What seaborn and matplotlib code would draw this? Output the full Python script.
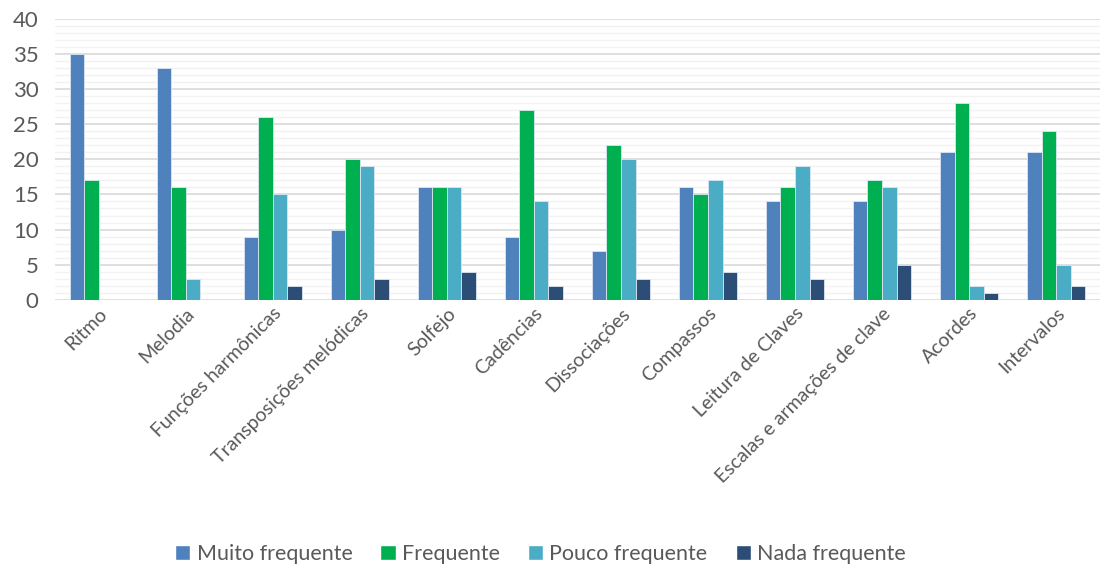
import pandas as pd
import numpy as np
import matplotlib.pyplot as plt
import seaborn as sns
from matplotlib.patches import Patch

categories = ["Ritmo", "Melodia", "Funções harmônicas", "Transposições melódicas",
              "Solfejo", "Cadências", "Dissociações", "Compassos",
              "Leitura de Claves", "Escalas e armações de clave", "Acordes", "Intervalos"]
muito = [35, 33, 9, 10, 16, 9, 7, 16, 14, 14, 21, 21]
frequente = [17, 16, 26, 20, 16, 27, 22, 15, 16, 17, 28, 24]
pouco = [0, 3, 15, 19, 16, 14, 20, 17, 19, 16, 2, 5]
nada = [0, 0, 2, 3, 4, 2, 3, 4, 3, 5, 1, 2]
series = ["Muito frequente", "Frequente", "Pouco frequente", "Nada frequente"]
colors = ["#4F81BD", "#00B050", "#4BACC6", "#2C4D75"]

rows = []
for name, vals in zip(series, [muito, frequente, pouco, nada]):
    for c, v in zip(categories, vals):
        rows.append({"Categoria": c, "Série": name, "Valor": v})
df = pd.DataFrame(rows)

sns.set_style("white")
plt.rcParams['font.family'] = ['Lato', 'DejaVu Sans']

fig = plt.figure(figsize=(11.03, 5.70), dpi=100)
ax = fig.add_axes([0.05, 0.474, 0.947, 0.493])

sns.barplot(data=df, x="Categoria", y="Valor", hue="Série", palette=colors,
            saturation=1, width=0.67, gap=0, edgecolor="#DCE6F2", linewidth=0.6,
            ax=ax, legend=False)

ax.set_ylim(0, 40)
ax.set_xlim(-0.5, len(categories) - 0.5)
ax.set_yticks(range(0, 41, 5))
ax.set_yticks(range(0, 41, 1), minor=True)
ax.grid(axis="y", which="major", color="#D9D9D9", linewidth=1.2)
ax.grid(axis="y", which="minor", color="#F2F2F2", linewidth=1.0)
ax.set_axisbelow(True)
for s in ax.spines.values():
    s.set_visible(False)
ax.tick_params(axis="both", which="both", length=0, labelcolor="#595959")
ax.tick_params(axis="x", labelsize=14)
ax.tick_params(axis="y", labelsize=16, pad=12)
ax.set_xlabel("")
ax.set_ylabel("")
plt.setp(ax.get_xticklabels(), rotation=45, ha="right", rotation_mode="anchor")

handles = [Patch(facecolor=c, label=s) for c, s in zip(colors, series)]
fig.legend(handles=handles, loc="center", bbox_to_anchor=(0.49, 0.028), ncol=4,
           frameon=False, fontsize=15.5, handlelength=0.7, handleheight=0.7,
           handletextpad=0.3, columnspacing=1.3, labelcolor="#595959")

fig.savefig("out.png", dpi=100)
